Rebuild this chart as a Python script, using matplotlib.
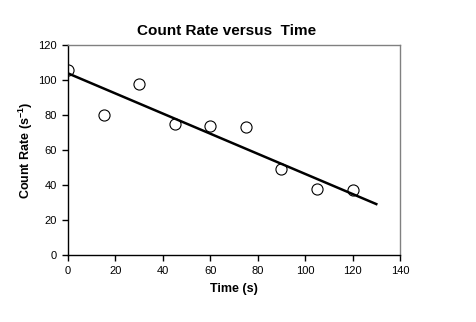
import matplotlib
matplotlib.use("Agg")
import matplotlib.pyplot as plt

time_s = [0, 15, 30, 45, 60, 75, 90, 105, 120]
count_rate = [106, 80, 98, 75, 74, 73, 49, 38, 37]
fit_time = [0, 130]
fit_rate = [103.8, 29.1]
x_ticks = [0, 20, 40, 60, 80, 100, 120, 140]
y_ticks = [0, 20, 40, 60, 80, 100, 120]

plt.rcParams['font.family'] = ['Liberation Sans', 'DejaVu Sans']
plt.rcParams['mathtext.fontset'] = 'custom'
plt.rcParams['mathtext.rm'] = 'Liberation Sans'
plt.rcParams['mathtext.bf'] = 'Liberation Sans:bold'

fig = plt.figure(figsize=(4.76, 3.22), dpi=100)
ax = fig.add_axes([68/476, 67/322, 332/476, 210/322])

ax.plot(fit_time, fit_rate, color='black', lw=1.8, zorder=2)
ax.plot(time_s, count_rate, 'o', ms=8, mfc='none', mec='black', mew=0.8, zorder=3)

ax.set_xlim(0, 140)
ax.set_ylim(0, 120)
ax.set_xticks(x_ticks)
ax.set_yticks(y_ticks)
ax.tick_params(labelsize=8, direction='out', length=4, width=1, colors='black', pad=4)
for s in ['left', 'bottom']:
    ax.spines[s].set_color('black')
    ax.spines[s].set_linewidth(1)
for s in ['top', 'right']:
    ax.spines[s].set_color('#808080')
    ax.spines[s].set_linewidth(1)

ax.set_title('Count Rate versus  Time', fontsize=11, fontweight='bold', pad=7, x=0.477)
ax.set_xlabel('Time (s)', fontsize=9, fontweight='bold', labelpad=5)
ax.set_ylabel('Count Rate (s$^{\\mathbf{-1}}$)', fontsize=9, fontweight='bold', labelpad=2)

fig.savefig('out.png', dpi=100)
